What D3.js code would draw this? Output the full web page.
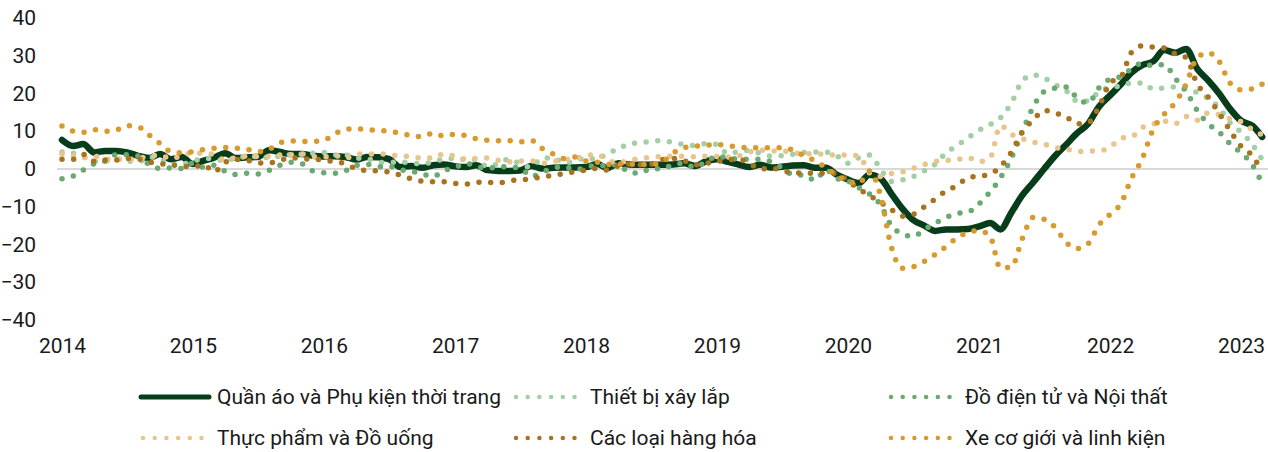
<!DOCTYPE html>
<html>
<head>
<meta charset="utf-8">
<script src="https://cdn.jsdelivr.net/npm/d3@7"></script>
<style>
  body { margin: 0; background: #fff; }
  svg text { font-family: Roboto, "Noto Sans", sans-serif; fill: #1a1a1a; }
</style>
</head>
<body>
<div id="chart"></div>
<script>
// Tamaño del lienzo
const width = 1268;
const height = 452;

// Meses: ene 2014 - mar 2023
const months = d3.timeMonth.range(new Date(2014, 0, 1), new Date(2023, 2, 2));
const yearTicks = [2014, 2015, 2016, 2017, 2018, 2019, 2020, 2021, 2022, 2023];
const yTicks = [40, 30, 20, 10, 0, -10, -20, -30, -40];

const seriesNames = [
  "Quần áo và Phụ kiện thời trang",
  "Thiết bị xây lắp",
  "Đồ điện tử và Nội thất",
  "Thực phẩm và Đồ uống",
  "Các loại hàng hóa",
  "Xe cơ giới và linh kiện"
];

// Valores mensuales (%)
const quanAo = [
  7.7, 6.1, 6.6, 4.4, 4.8, 4.8, 4.4, 3.5, 2.9, 4.0, 2.6, 3.2,
  1.3, 2.2, 3.0, 4.2, 2.9, 3.1, 3.2, 5.0, 4.5, 4.0, 4.0, 3.5,
  3.3, 3.4, 3.2, 2.5, 3.2, 3.1, 2.6, 0.5, 0.8, 0.3, 1.0, 1.2,
  0.7, 0.5, 1.0, -0.3, -0.5, -0.5, -0.4, 0.8, 0.1, 0.3, 0.4, 0.4,
  0.5, 1.3, 0.3, 1.5, 1.2, 1.1, 1.1, 1.1, 1.2, 1.5, 0.8, 2.0,
  2.6, 1.9, 1.2, 0.5, 1.1, 0.4, 0.6, 0.9, 1.0, 0.3, 0.3, -1.5,
  -2.8, -3.7, -1.5, -2.5, -6.5, -10.5, -13.5, -15.0, -16.4, -16.0, -16.0, -15.9,
  -15.2, -14.3, -16.0, -11.5, -7.0, -3.5, 0.0, 3.5, 6.5, 9.5, 12.0, 16.5,
  19.5, 22.5, 25.5, 27.5, 28.5, 31.5, 30.8, 31.8, 26.5, 23.5, 20.0, 16.0,
  12.8, 11.5, 8.5
];
const thietBi = [
  4.5, 4.2, 3.2, 2.0, 2.1, 2.6, 2.2, 1.9, 3.2, 2.6, 1.2, 1.3,
  2.0, 2.8, 2.7, 2.1, 3.0, 3.2, 3.3, 3.0, 3.4, 3.8, 3.9, 4.2,
  4.4, 3.7, 3.7, 2.9, 2.7, 1.8, 1.7, 1.9, 1.6, 1.4, 1.9, 2.6,
  2.8, 2.4, 2.5, 0.6, 1.4, 2.7, 1.3, 0.5, 2.9, 2.9, 1.7, 2.0,
  3.0, 2.5, 4.3, 5.1, 6.8, 6.9, 7.4, 7.5, 7.0, 6.5, 6.2, 6.7,
  6.5, 4.0, 4.6, 4.9, 4.2, 3.4, 3.5, 3.9, 4.4, 4.5, 4.5, 3.5,
  1.5, 3.0, 3.7, 0.0, -3.3, -2.9, -2.0, -0.5, 1.3, 4.3, 6.2, 8.3,
  10.3, 11.8, 13.5, 17.5, 23.3, 24.9, 24.1, 22.3, 20.7, 18.0, 18.0, 20.5,
  21.6, 22.0, 22.8, 22.8, 21.2, 21.5, 21.7, 21.4, 20.2, 18.7, 16.2, 12.3,
  9.8, 6.6, 2.5
];
const doDienTu = [
  -2.6, -1.9, -0.3, 1.4, 2.1, 3.8, 3.8, 3.4, 1.2, 0.1, 0.3, 0.1,
  1.5, 0.5, 1.0, -0.6, -1.5, -1.1, -1.3, -0.4, 1.0, 1.8, 1.4, -0.5,
  -1.0, -1.1, -0.5, 1.0, 1.2, 0.6, 0.7, -0.2, -0.6, -1.3, -2.0, -0.4,
  0.4, 1.5, 0.7, 0.1, 0.7, 0.5, 0.3, -2.0, -0.8, 0.2, 0.7, -0.2,
  0.4, 1.1, 0.8, 1.2, -0.9, -1.1, 0.1, 0.0, 1.2, 1.5, 0.4, 2.0,
  3.3, 3.0, 2.6, 2.6, 2.6, 1.9, 0.3, -1.5, -1.6, -3.0, -0.2, -2.5,
  -3.2, -5.0, -6.6, -9.5, -15.0, -17.2, -17.9, -16.0, -14.3, -12.8, -11.8, -11.4,
  -9.2, -6.0, -2.4, 3.0, 9.8, 16.5, 20.5, 21.4, 21.7, 18.8, 17.5, 21.5,
  23.8, 24.5, 26.5, 28.0, 27.3, 27.7, 24.1, 20.5, 15.5, 12.0, 9.8, 6.7,
  4.3, 1.2, -3.8
];
const thucPham = [
  4.0, 3.5, 3.0, 3.4, 2.6, 2.6, 2.5, 2.8, 3.4, 3.7, 2.7, 3.6,
  4.2, 4.2, 3.8, 2.4, 3.0, 3.4, 3.3, 3.3, 3.7, 3.8, 4.0, 3.3,
  3.2, 3.6, 2.8, 3.9, 4.0, 4.0, 3.8, 3.4, 3.3, 2.9, 2.9, 4.0,
  3.4, 2.6, 2.8, 2.9, 2.3, 1.9, 2.1, 2.2, 1.5, 2.0, 2.5, 2.8,
  3.5, 3.9, 2.4, 1.7, 2.3, 2.8, 3.1, 3.3, 3.4, 3.4, 3.2, 3.4,
  3.3, 3.2, 3.4, 4.5, 5.0, 4.8, 4.8, 4.4, 4.0, 4.1, 3.8, 3.7,
  3.7, 3.5, -1.0, -2.0, -1.2, -0.8, 0.2, 1.2, 2.0, 2.3, 2.5, 3.0,
  2.0, 3.0, 11.5, 9.2, 8.0, 7.1, 6.6, 5.7, 5.3, 4.6, 4.8, 4.8,
  5.8, 8.2, 8.5, 11.0, 11.9, 12.7, 12.0, 13.9, 12.9, 14.8, 14.4, 13.3,
  12.5, 10.5, 9.0
];
const cacLoai = [
  2.6, 2.6, 3.9, 2.0, 2.4, 2.4, 2.8, 2.7, 1.8, 1.4, 1.1, 0.7,
  0.6, 1.1, -0.8, 1.8, 2.5, 2.3, 1.6, 1.6, 2.3, 3.0, 2.7, 2.6,
  2.4, 1.9, 1.4, 0.0, -0.4, -0.5, -0.8, -1.6, -2.6, -3.2, -3.4, -3.4,
  -3.8, -4.0, -3.5, -3.5, -3.7, -3.1, -2.9, -2.6, -2.1, -1.7, -1.2, -0.7,
  -0.3, 0.2, -0.3, 0.8, 1.3, 1.1, 1.3, 2.5, 2.8, 2.2, 1.1, 1.5,
  2.0, 2.4, 2.6, 1.6, 0.0, 0.3, -0.4, -1.0, -1.1, -1.1, -1.1, -1.2,
  -3.2, -5.3, -7.0, -8.8, -10.7, -12.5, -12.0, -10.0, -7.9, -5.8, -4.4, -2.3,
  -1.9, -1.3, 0.6, 4.5, 9.8, 13.0, 15.5, 14.8, 13.8, 12.0, 12.3, 16.5,
  22.8, 24.5, 30.8, 32.6, 32.3, 32.0, 30.5, 29.5, 22.5, 19.1, 14.8, 10.3,
  6.0, 3.6, -0.8
];
const xeCoGioi = [
  11.4, 10.0, 9.7, 10.4, 10.0, 10.3, 11.5, 11.2, 9.0, 6.8, 4.6, 4.3,
  4.6, 5.2, 5.5, 5.7, 5.5, 5.2, 4.6, 5.2, 7.0, 7.4, 7.3, 7.3,
  7.6, 9.3, 10.5, 10.7, 10.4, 10.3, 9.9, 9.6, 8.8, 8.6, 9.5, 8.7,
  9.2, 8.8, 8.0, 7.6, 7.5, 7.5, 7.2, 7.6, 5.4, 4.0, 2.8, 3.2,
  2.1, 1.8, 1.2, 1.3, 1.3, 1.2, 1.2, 1.8, 4.2, 5.7, 6.0, 6.3,
  6.5, 6.1, 5.9, 5.6, 5.6, 5.6, 5.6, 5.0, 3.5, 2.2, 0.3, -1.6,
  -3.2, -3.8, -0.5, -7.0, -20.6, -26.3, -25.9, -24.5, -22.6, -20.5, -18.2, -16.8,
  -16.3, -18.0, -26.2, -26.0, -18.5, -12.8, -13.3, -15.5, -19.5, -21.1, -19.8, -14.8,
  -12.0, -9.0, -2.6, 2.8, 10.5, 14.5, 17.5, 22.5, 29.5, 30.8, 28.5, 22.8,
  21.0, 21.2, 22.5
];

const seriesValues = [quanAo, thietBi, doDienTu, thucPham, cacLoai, xeCoGioi];
const colors = ["#073d1b", "#a3cfa6", "#6aa971", "#e9c58d", "#a8731f", "#d8992d"];

const svg = d3.select("#chart")
  .append("svg")
  .attr("width", width)
  .attr("height", height);

// Escalas
const xScale = d3.scaleTime()
  .domain([new Date(2014, 0, 1), new Date(2023, 0, 1)])
  .range([62, 1241]);

const yScale = d3.scaleLinear()
  .domain([-40, 40])
  .range([320, 18]);

// Eje Y (solo etiquetas)
const yAxis = d3.axisLeft(yScale)
  .tickValues(yTicks)
  .tickSize(0)
  .tickPadding(0)
  .tickFormat(d3.format("d"));

svg.append("g")
  .attr("transform", "translate(36,0)")
  .call(yAxis)
  .call(g => g.select(".domain").remove())
  .selectAll("text")
  .style("font-size", "21px")
  .style("font-family", "Roboto, sans-serif")
  .attr("fill", "#1a1a1a");

// Eje X (años)
const xAxis = d3.axisBottom(xScale)
  .tickValues(yearTicks.map(y => new Date(y, 0, 1)))
  .tickSize(0)
  .tickPadding(0)
  .tickFormat(d3.timeFormat("%Y"));

svg.append("g")
  .attr("transform", "translate(0,338)")
  .call(xAxis)
  .call(g => g.select(".domain").remove())
  .selectAll("text")
  .style("font-size", "21px")
  .style("font-family", "Roboto, sans-serif")
  .attr("fill", "#1a1a1a");

// Línea del cero
svg.append("line")
  .attr("x1", 57)
  .attr("x2", width)
  .attr("y1", yScale(0))
  .attr("y2", yScale(0))
  .attr("stroke", "#d9d9d9")
  .attr("stroke-width", 2);

const line = d3.line()
  .x((d, i) => xScale(months[i]))
  .y(d => yScale(d))
  .curve(d3.curveMonotoneX);

// Series (la primera sólida, el resto punteadas)
seriesValues.forEach((vals, k) => {
  const path = svg.append("path")
    .datum(vals)
    .attr("fill", "none")
    .attr("stroke", colors[k])
    .attr("stroke-linecap", "round")
    .attr("stroke-linejoin", "round")
    .attr("d", line);
  if (k === 0) {
    path.attr("stroke-width", 6.5);
  } else {
    path.attr("stroke-width", 5.5)
      .attr("stroke-dasharray", "0 11.7");
  }
});

// Leyenda
const legendCols = [139, 512, 887];
const legendRows = [397, 438];

seriesNames.forEach((name, k) => {
  const sx = legendCols[k % 3];
  const sy = legendRows[Math.floor(k / 3)];
  const g = svg.append("g");
  if (k === 0) {
    g.append("line")
      .attr("x1", sx + 2).attr("x2", sx + 70)
      .attr("y1", sy).attr("y2", sy)
      .attr("stroke", colors[k])
      .attr("stroke-width", 5)
      .attr("stroke-linecap", "round");
  } else {
    g.append("line")
      .attr("x1", sx + 4).attr("x2", sx + 64)
      .attr("y1", sy).attr("y2", sy)
      .attr("stroke", colors[k])
      .attr("stroke-width", 4.5)
      .attr("stroke-linecap", "round")
      .attr("stroke-dasharray", "0 11.7");
  }
  g.append("text")
    .attr("x", sx + 78)
    .attr("y", sy)
    .attr("dy", "0.35em")
    .style("font-size", "21px")
    .text(name);
});
</script>
</body>
</html>
